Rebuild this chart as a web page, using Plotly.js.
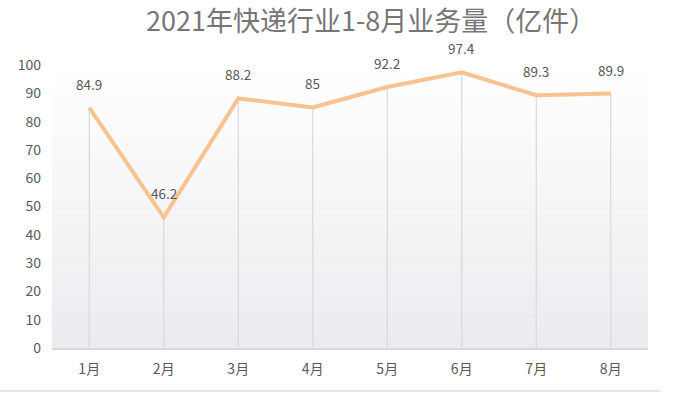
<!DOCTYPE html>
<html>
<head>
<meta charset="utf-8">
<script src="https://cdn.plot.ly/plotly-3.0.1.min.js"></script>
<style>html,body{margin:0;padding:0;background:#fff;}#chart{width:681px;height:398px;}</style>
</head>
<body>
<div id="chart"></div>
<script>
const months = ['1月','2月','3月','4月','5月','6月','7月','8月'];
const volumes = [84.9, 46.2, 88.2, 85, 92.2, 97.4, 89.3, 89.9];
const yTicks = [0,10,20,30,40,50,60,70,80,90,100];
const titleText = '2021年快递行业1-8月业务量（亿件）';

const FONT = '"Noto Sans CJK SC", "Noto Sans", sans-serif';

// drop lines from each point to the axis
const dropX = [], dropY = [];
months.forEach((m, i) => { dropX.push(m, m, null); dropY.push(0, volumes[i], null); });

const traces = [
  {x: dropX, y: dropY, mode: 'lines', line: {color: '#d9d9d9', width: 1.2}, hoverinfo: 'skip', showlegend: false},
  {x: months, y: volumes, mode: 'lines', line: {color: '#f8c291', width: 4}, showlegend: false}
];

// gradient background for the plot area
const shapes = [];
const N = 40;
const gradTop = [255,255,255], gradBot = [235,234,238];
for (let k = 0; k < N; k++) {
  const t = (k + 0.5) / N;
  const c = gradTop.map((v, j) => Math.round(v + (gradBot[j] - v) * t));
  shapes.push({type: 'rect', xref: 'paper', yref: 'paper', x0: 0, x1: 1,
    y0: 1 - (k + 1) / N, y1: 1 - k / N, fillcolor: `rgb(${c.join(',')})`,
    line: {width: 0}, layer: 'below'});
}
shapes.push({type: 'line', xref: 'paper', yref: 'paper', x0: -52/596, x1: 608/596,
  y0: -43/283, y1: -43/283, line: {color: '#dcdcdc', width: 1.5}});

const annotations = months.map((m, i) => ({
  x: m, y: volumes[i], text: String(volumes[i]), showarrow: false, yshift: 24,
  font: {family: FONT, size: 13.5, color: '#595959'}
}));

const layout = {
  width: 681, height: 398,
  margin: {l: 52, r: 33, t: 65, b: 50},
  paper_bgcolor: '#ffffff', plot_bgcolor: '#ffffff',
  title: {text: titleText, xref: 'container', x: 0.545, xanchor: 'center',
    yref: 'container', y: 1 - 22/398, yanchor: 'middle',
    font: {family: FONT, size: 27, color: '#767676'}},
  xaxis: {type: 'category', categoryorder: 'array', categoryarray: months, range: [-0.5, 7.5],
    showgrid: false, zeroline: false, showline: true, linecolor: '#d9d9d9', linewidth: 1.5,
    ticks: '', ticklabelstandoff: 8, tickfont: {family: FONT, size: 14, color: '#595959'},
    fixedrange: true},
  yaxis: {range: [0, 100], tickvals: yTicks, showgrid: false, zeroline: false, showline: false,
    ticks: '', ticklabelstandoff: 10, tickfont: {family: FONT, size: 14, color: '#595959'},
    fixedrange: true},
  shapes: shapes,
  annotations: annotations,
  hovermode: false
};

Plotly.newPlot('chart', traces, layout, {displayModeBar: false, staticPlot: true});
</script>
</body>
</html>
